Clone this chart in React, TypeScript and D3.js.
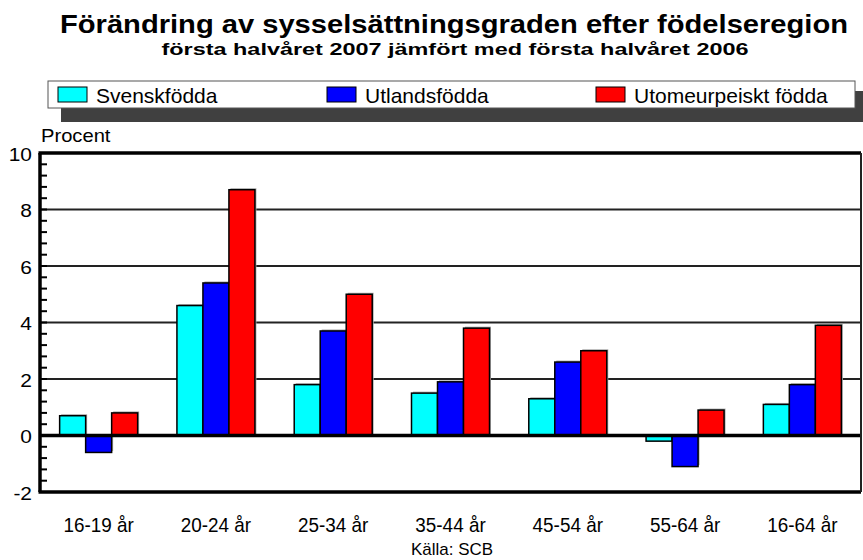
import React from "react";
import * as d3 from "d3";

const categories = ["16-19 år", "20-24 år", "25-34 år", "35-44 år", "45-54 år", "55-64 år", "16-64 år"];
const seriesNames = ["Svenskfödda", "Utlandsfödda", "Utomeurpeiskt födda"];
const svenskfodda = [0.7, 4.6, 1.8, 1.5, 1.3, -0.2, 1.1];
const utlandsfodda = [-0.6, 5.4, 3.7, 1.9, 2.6, -1.1, 1.8];
const utomeurpeiskt = [0.8, 8.7, 5.0, 3.8, 3.0, 0.9, 3.9];
const seriesColors = ["#00FFFF", "#0000FF", "#FF0000"];
const yTicks = [-2, 0, 2, 4, 6, 8, 10];
const gridValues = [2, 4, 6, 8];

const W = 863;
const H = 560;
const FONT = "'Liberation Sans', Arial, sans-serif";

function T(props: { x: number; y: number; sx?: number; size: number; anchor?: string; bold?: boolean; children: React.ReactNode }) {
  const { x, y, sx = 1, size, anchor = "start", bold, children } = props;
  return (
    <text
      transform={`translate(${x},${y}) scale(${sx},1)`}
      fontSize={size}
      textAnchor={anchor}
      fontWeight={bold ? "bold" : "normal"}
      fill="#000"
    >
      {children}
    </text>
  );
}

export default function App() {
  const left = 40, right = 861, top = 153, bottom = 492;
  const x = d3.scaleBand<string>().domain(categories).range([left, right]).padding(0);
  const y = d3.scaleLinear().domain([-2, 10]).range([bottom, top]);
  const barW = 26;
  const series = [svenskfodda, utlandsfodda, utomeurpeiskt];
  const minor = d3.range(-2, 10.001, 0.4).map((v) => Math.round(v * 10) / 10);
  const legendX = [58, 327, 596];

  return (
    <svg width={W} height={H} style={{ position: "absolute", left: 0, top: 0, fontFamily: FONT }}>
      <rect x={0} y={0} width={W} height={H} fill="#fff" />
      <text x={454} y={33} textAnchor="middle" fontSize={25} fontWeight="bold" textLength={788} lengthAdjust="spacingAndGlyphs">Förändring av sysselsättningsgraden efter födelseregion</text>
      <text x={455} y={55} textAnchor="middle" fontSize={16.5} fontWeight="bold" textLength={587} lengthAdjust="spacingAndGlyphs">första halvåret 2007 jämfört med första halvåret 2006</text>

      {/* legend */}
      <rect x={61} y={91} width={806} height={31} fill="#404040" />
      <rect x={48} y={81} width={807} height={27} fill="#fff" stroke="#555" strokeWidth={1} />
      {seriesNames.map((n, i) => (
        <g key={n}>
          <rect x={legendX[i]} y={87} width={29} height={15} fill={seriesColors[i]} stroke="#000" strokeWidth={1} />
          <T x={legendX[i] + 38} y={103} size={21}>{n}</T>
        </g>
      ))}

      <T x={41} y={142} size={18} sx={1.12}>Procent</T>

      {/* gridlines */}
      {gridValues.map((v) => (
        <line key={v} x1={left} x2={right} y1={y(v)} y2={y(v)} stroke="#222" strokeWidth={2} />
      ))}

      {/* bars */}
      {categories.map((c, ci) => {
        const cx = (x(c) as number) + x.bandwidth() / 2;
        return series.map((s, si) => {
          const v = s[ci];
          const bx = cx - 1.5 * barW + si * barW;
          const y0 = y(Math.max(0, v));
          const h = Math.abs(y(v) - y(0));
          return (
            <g key={c + si}>
              <rect x={bx + 1.5} y={y0 - 1.5} width={barW} height={h} fill="#aaa" />
              <rect x={bx} y={y0} width={barW} height={h} fill={seriesColors[si]} stroke="#000" strokeWidth={1.5} />
            </g>
          );
        });
      })}

      {/* zero line */}
      <line x1={left} x2={right} y1={y(0)} y2={y(0)} stroke="#000" strokeWidth={3.5} />

      {/* minor ticks */}
      {minor.map((v) => (
        <line key={v} x1={left} x2={left + 7} y1={y(v)} y2={y(v)} stroke="#000" strokeWidth={2} />
      ))}

      {/* frame */}
      <line x1={left - 1.5} x2={right} y1={top} y2={top} stroke="#000" strokeWidth={3.5} />
      <line x1={left - 1.5} x2={right} y1={bottom} y2={bottom} stroke="#000" strokeWidth={3.5} />
      <line x1={left} x2={left} y1={top} y2={bottom} stroke="#000" strokeWidth={3.5} />
      <line x1={right} x2={right} y1={top} y2={bottom} stroke="#222" strokeWidth={2} />

      {/* y tick labels */}
      {yTicks.map((v) => (
        <T key={v} x={32} y={y(v) + 7.5} size={19} sx={1.1} anchor="end">{v}</T>
      ))}

      {/* x labels */}
      {categories.map((c) => (
        <T key={c} x={(x(c) as number) + x.bandwidth() / 2} y={532} size={21} sx={0.9} anchor="middle">{c}</T>
      ))}

      <T x={452} y={555} size={16} sx={1.06} anchor="middle">Källa: SCB</T>
    </svg>
  );
}
